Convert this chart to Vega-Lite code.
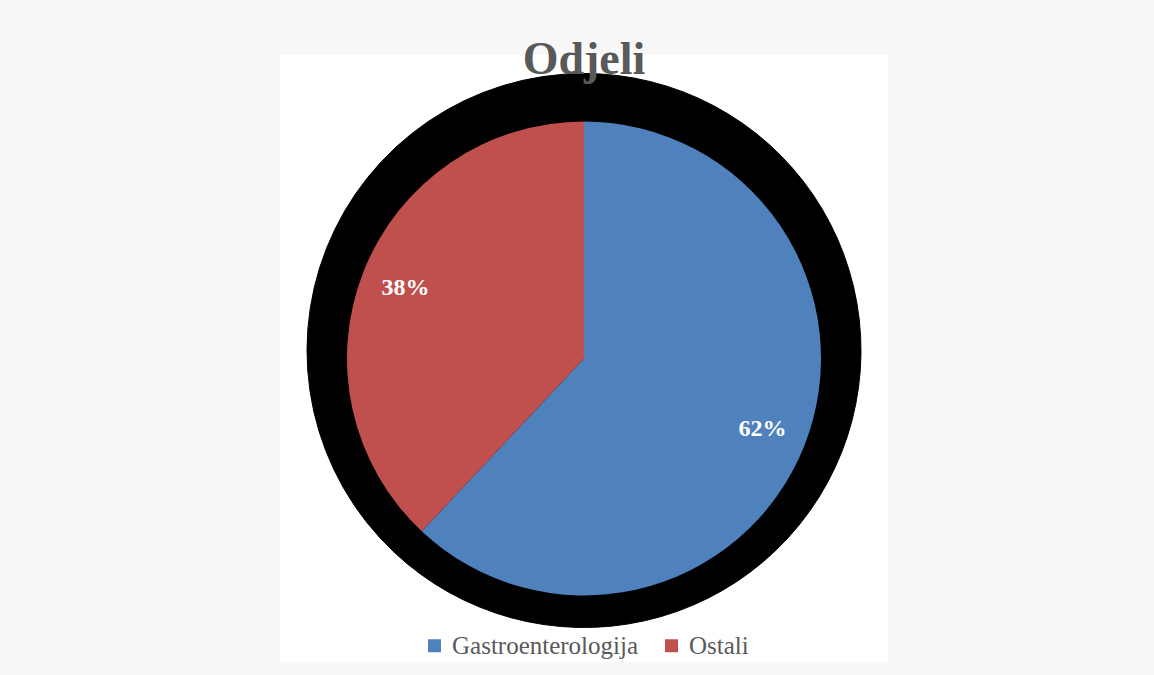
{
  "$schema": "https://vega.github.io/schema/vega-lite/v6.json",
  "autosize": "none",
  "width": 608,
  "height": 607,
  "padding": {"left": 280, "top": 55, "right": 266, "bottom": 13},
  "background": "#f8f8f8",
  "view": {"fill": "white", "stroke": null},
  "title": {
    "text": "Odjeli",
    "font": "Liberation Serif",
    "fontSize": 46,
    "fontWeight": "bold",
    "color": "#595959",
    "anchor": "middle",
    "offset": -29
  },
  "data": {
    "values": [
      {"odjel": "Gastroenterologija", "udio": 62, "oznaka": "62%"},
      {"odjel": "Ostali", "udio": 38, "oznaka": "38%"}
    ]
  },
  "encoding": {
    "theta": {"field": "udio", "type": "quantitative", "stack": true},
    "order": {"field": "udio", "type": "quantitative", "sort": "descending"}
  },
  "layer": [
    {
      "mark": {"type": "arc", "radius": 277, "yOffset": -8, "fill": "black", "stroke": "black", "strokeWidth": 1}
    },
    {
      "mark": {"type": "arc", "radius": 237},
      "encoding": {
        "color": {
          "field": "odjel",
          "type": "nominal",
          "scale": {"domain": ["Gastroenterologija", "Ostali"], "range": ["#4F81BD", "#C0504D"]},
          "legend": {
            "title": null,
            "orient": "none",
            "direction": "horizontal",
            "legendX": 142,
            "legendY": 578,
            "symbolType": "square",
            "symbolSize": 169,
            "symbolStrokeWidth": 0,
            "labelFont": "Liberation Serif",
            "labelFontSize": 25,
            "labelColor": "#595959",
            "labelOffset": 5,
            "labelLimit": 400,
            "columnPadding": 20
          }
        }
      }
    },
    {
      "mark": {"type": "text", "radius": 192, "font": "Liberation Serif", "fontSize": 24, "fontWeight": "bold", "fill": "white"},
      "encoding": {
        "text": {"field": "oznaka", "type": "nominal"}
      }
    }
  ]
}
